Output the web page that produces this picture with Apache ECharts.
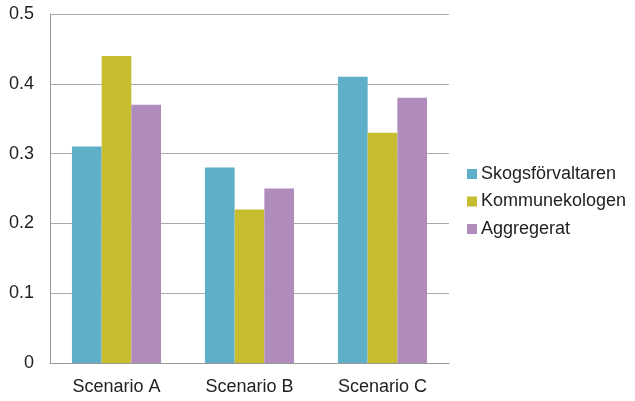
<!DOCTYPE html>
<html><head><meta charset="utf-8">
<script src="https://cdn.jsdelivr.net/npm/echarts@6/dist/echarts.min.js"></script>
<style>html,body{margin:0;padding:0;background:#fff}#c{width:635px;height:401px}</style>
</head><body><div id="c"></div>
<script>
const categories = ['Scenario A', 'Scenario B', 'Scenario C'];
const seriesNames = ['Skogsförvaltaren', 'Kommunekologen', 'Aggregerat'];
const skogsforvaltaren = [0.31, 0.28, 0.41];
const kommunekologen = [0.44, 0.22, 0.33];
const aggregerat = [0.37, 0.25, 0.38];
const yTicks = { min: 0, max: 0.5, interval: 0.1 };
const colors = ['#5eafc7', '#c7be2f', '#b08cbd'];
const values = [skogsforvaltaren, kommunekologen, aggregerat];

const chart = echarts.init(document.getElementById('c'));
const font = 'Liberation Sans, Arial, sans-serif';
chart.setOption({
  animation: false,
  textStyle: { fontFamily: font },
  grid: { left: 50, right: 186, top: 14, bottom: 38 },
  legend: {
    orient: 'vertical', left: 462, top: 160, padding: 5,
    itemWidth: 10, itemHeight: 10, itemGap: 9.5,
    icon: 'rect',
    textStyle: { fontSize: 18, color: '#222', fontFamily: font, padding: [0,0,0,-1] },
    data: seriesNames
  },
  xAxis: {
    type: 'category', data: categories,
    axisLine: { lineStyle: { color: '#999' } },
    axisTick: { show: false },
    axisLabel: { fontSize: 18, color: '#222', margin: 15 }
  },
  yAxis: {
    type: 'value', min: yTicks.min, max: yTicks.max, interval: yTicks.interval,
    axisLine: { show: true, lineStyle: { color: '#999' } },
    axisTick: { show: false },
    splitLine: { lineStyle: { color: '#aaa' } },
    axisLabel: { fontSize: 18, color: '#222', margin: 16, formatter: v => v === 0 ? '0' : v.toFixed(1) }
  },
  series: seriesNames.map((n, i) => ({
    name: n, type: 'bar', data: values[i],
    barGap: '0%', barCategoryGap: '33%',
    itemStyle: { color: colors[i] }
  }))
});
</script></body></html>
